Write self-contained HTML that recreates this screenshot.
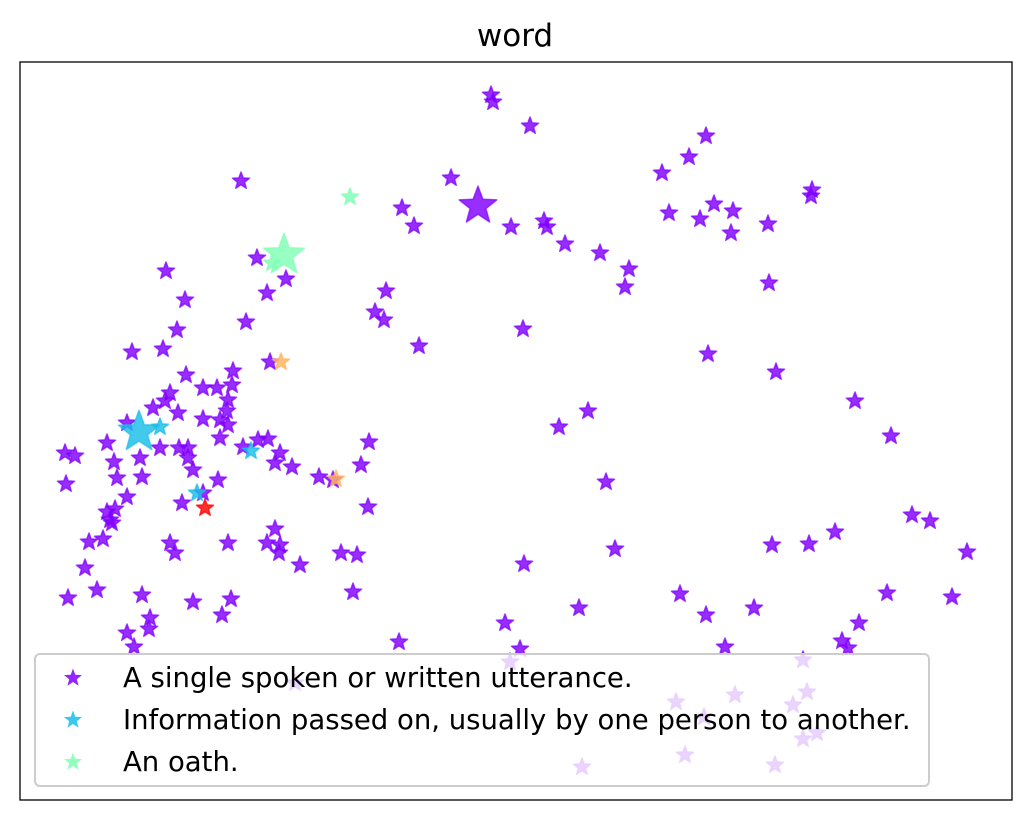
<!DOCTYPE html>
<html><head><meta charset="utf-8"><style>
body{margin:0;background:#fff;font-family:"Liberation Sans","DejaVu Sans",sans-serif}
</style></head><body>
<svg id="chart" width="1031" height="821" xmlns="http://www.w3.org/2000/svg">
<rect x="0" y="0" width="1031" height="821" fill="#fff"/>
<text x="515" y="46" text-anchor="middle" font-family="DejaVu Sans, sans-serif" font-size="31" fill="#000">word</text>
<g id="marks"></g>
<rect x="20" y="62" width="992" height="738" fill="none" stroke="#000" stroke-width="1.3"/>
<g id="legend">
<rect x="35" y="654" width="894" height="132" rx="5" fill="#fff" fill-opacity="0.8" stroke="#ccc" stroke-width="2"/>
</g>
</svg>
<script>
const categoryColors=["#8000ff","#18bde8","#80ffb4","#ffb360","#ff0000"];
const legendLabels=["A single spoken or written utterance.","Information passed on, usually by one person to another.","An oath."];
const xs=[491,493,530,706,689,662,241,451,402,414,478,511,544,547,565,600,629,625,669,700,714,733,731,768,812,811,769,257,166,286,267,185,386,246,177,375,384,523,419,708,776,855,891,588,559,606,912,930,967,835,809,772,615,524,887,952,859,842,848,754,725,706,680,579,505,520,399,
132,163,270,233,186,203,217,232,170,165,153,178,228,227,203,220,228,127,220,107,65,75,140,160,179,188,188,193,114,117,142,66,127,182,218,203,243,258,268,280,275,292,319,333,361,369,368,107,115,110,89,103,112,170,175,228,275,267,280,279,300,341,357,353,85,97,68,142,193,231,222,150,149,127,134,
510,803,676,735,807,793,817,803,685,582,775,704,295,
139,160,197,251,205,281,336,284,272,350];
const ys=[95,102,126,136,157,173,181,178,208,226,206,227,221,227,244,253,269,287,213,219,204,211,233,224,190,196,283,258,271,279,293,300,291,322,330,312,320,329,346,354,372,401,436,411,427,482,515,521,552,532,544,545,549,564,593,597,623,641,648,608,647,615,594,608,623,649,642,
352,349,362,371,375,388,388,385,393,401,408,413,400,411,419,420,425,423,438,443,453,456,458,448,448,448,458,470,462,478,477,484,497,503,480,493,447,440,439,453,463,467,477,480,465,442,507,512,509,520,542,539,523,543,553,543,529,543,545,553,565,553,555,592,568,590,598,595,602,599,615,618,629,633,647,
662,660,702,695,692,705,733,739,755,767,765,717,683,
432,427,493,451,508,362,479,255,263,197];
const cats=[];const sizes=[];
for(let i=0;i<xs.length;i++){cats.push(0);sizes.push(1);}
const specialCats=[1,1,1,1,4,3,3,2,2,2];
const specialSizes=[2.4,1,1,1,1,1,1,2.4,1,1];
for(let k=0;k<10;k++){cats[xs.length-10+k]=specialCats[k];sizes[xs.length-10+k]=specialSizes[k];}
sizes[10]=2.2;
const xDomain=[20,1012], yDomain=[62,800];
function sx(v){return 20+(v-xDomain[0])/(xDomain[1]-xDomain[0])*992;}
function sy(v){return 62+(v-yDomain[0])/(yDomain[1]-yDomain[0])*738;}
function star(cx,cy,r){let p=[];for(let i=0;i<10;i++){const a=-Math.PI/2+i*Math.PI/5;const rr=i%2?r*0.42:r;p.push((cx+rr*Math.cos(a)).toFixed(1)+","+(cy+rr*Math.sin(a)).toFixed(1));}return "M"+p.join("L")+"Z";}
const NS="http://www.w3.org/2000/svg";
const g=document.getElementById("marks");
for(let i=0;i<xs.length;i++){
  const el=document.createElementNS(NS,"path");
  el.setAttribute("d",star(sx(xs[i]),sy(ys[i]),9*sizes[i]));
  el.setAttribute("fill",categoryColors[cats[i]]);
  el.setAttribute("fill-opacity","0.82");
  el.setAttribute("stroke",categoryColors[cats[i]]);
  el.setAttribute("stroke-opacity","0.7");
  el.setAttribute("stroke-width","1.5");
  el.setAttribute("stroke-linejoin","round");
  
  
  g.appendChild(el);
}
const lg=document.getElementById("legend");
for(let k=0;k<legendLabels.length;k++){
  const yy=678+k*42;
  const m=document.createElementNS(NS,"path");
  m.setAttribute("d",star(73,yy,9.5));
  m.setAttribute("fill",categoryColors[k]);
  m.setAttribute("fill-opacity","0.85");
  
  
  lg.appendChild(m);
  const t=document.createElementNS(NS,"text");
  t.setAttribute("x",123);t.setAttribute("y",yy+9);
  t.setAttribute("font-size","27.5");
  t.setAttribute("font-family","DejaVu Sans, sans-serif");
  t.textContent=legendLabels[k];
  
  
  lg.appendChild(t);
}
</script>
</body></html>
